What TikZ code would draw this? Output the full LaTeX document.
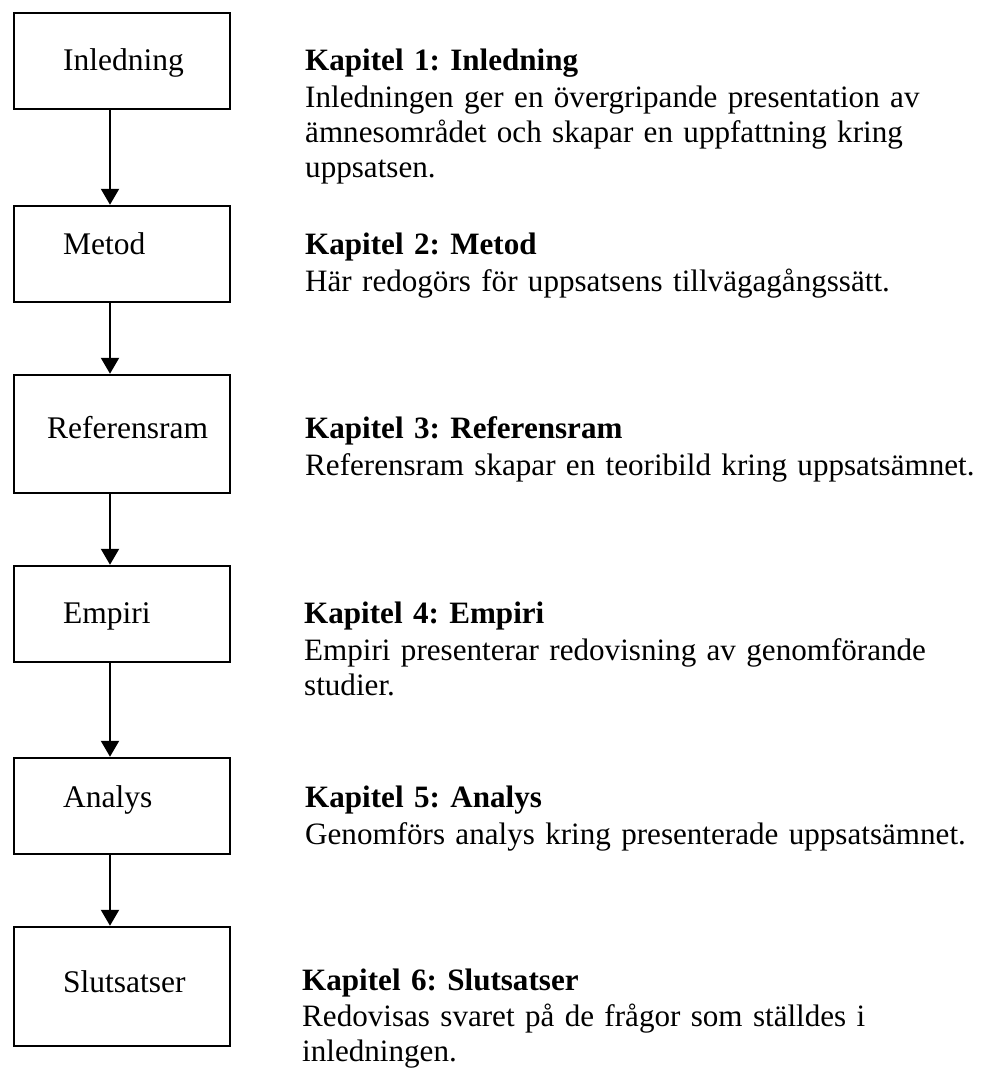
\documentclass[tikz,border=0pt]{standalone}
\usepackage{fontspec}
\setmainfont{Liberation Serif}
\frenchspacing
\usepackage{tikz}
\usetikzlibrary{arrows.meta}
\tikzset{
  chapbox/.style={
    draw=black, fill=white, line width=2.5pt,
    minimum width=216pt, minimum height=96pt, inner sep=0pt
  },
  chaplbl/.style={
    anchor=base west, inner sep=0pt,
    font=\fontsize{31.5}{35}\selectfont
  },
  chapdesc/.style={
    anchor=base west, inner sep=0pt, text width=700pt, align=left,
    font=\fontsize{31.1}{35}\selectfont
  },
  chaparr/.style={draw=black, line width=2.2pt,
    -{Triangle[length=16pt,width=18pt]}}
}

\begin{document}
\begin{tikzpicture}[x=1pt,y=-1pt]

  \useasboundingbox (0,0) rectangle (982,1068);

  %% ---- Inledning ----
  \node[chapbox] (in_b) at (122,61) {};
  \node[chaplbl] (in_l) at (63,70.7) {Inledning};
  \node[chapdesc] (in_d) at (305,70.7) {
    \textbf{Kapitel 1: Inledning}\\[2pt]
    Inledningen ger en övergripande presentation av\\
    ämnesområdet och skapar en uppfattning kring\\
    uppsatsen.
  };

  %% ---- Metod ----
  \node[chapbox] (me_b) at (122,254) {};
  \node[chaplbl] (me_l) at (63,254) {Metod};
  \node[chapdesc] (me_d) at (305,254) {
    \textbf{Kapitel 2: Metod}\\[2pt]
    Här redogörs för uppsatsens tillvägagångssätt.
  };

  %% ---- Referensram ----
  \node[chapbox, minimum height=118pt] (re_b) at (122,434) {};
  \node[chaplbl] (re_l) at (47,438) {Referensram};
  \node[chapdesc] (re_d) at (305,438) {
    \textbf{Kapitel 3: Referensram}\\[2pt]
    Referensram skapar en teoribild kring uppsatsämnet.
  };

  %% ---- Empiri ----
  \node[chapbox] (em_b) at (122,614) {};
  \node[chaplbl] (em_l) at (63,623) {Empiri};
  \node[chapdesc] (em_d) at (304,623) {
    \textbf{Kapitel 4: Empiri}\\[2pt]
    Empiri presenterar redovisning av genomförande\\
    studier.
  };

  %% ---- Analys ----
  \node[chapbox] (an_b) at (122,806) {};
  \node[chaplbl] (an_l) at (63,807) {Analys};
  \node[chapdesc] (an_d) at (305,807) {
    \textbf{Kapitel 5: Analys}\\[2pt]
    Genomförs analys kring presenterade uppsatsämnet.
  };

  %% ---- Slutsatser ----
  \node[chapbox, minimum height=119pt] (sl_b) at (122,986.5) {};
  \node[chaplbl] (sl_l) at (63,992) {Slutsatser};
  \node[chapdesc] (sl_d) at (302,990) {
    \textbf{Kapitel 6: Slutsatser}\\[1pt]
    Redovisas svaret på de frågor som ställdes i\\
    inledningen.
  };

  %% Flow
  \draw[chaparr] ([xshift=-12pt]in_b.south) -- ([xshift=-12pt]me_b.north);
  \draw[chaparr] ([xshift=-12pt]me_b.south) -- ([xshift=-12pt]re_b.north);
  \draw[chaparr] ([xshift=-12pt]re_b.south) -- ([xshift=-12pt]em_b.north);
  \draw[chaparr] ([xshift=-12pt]em_b.south) -- ([xshift=-12pt]an_b.north);
  \draw[chaparr] ([xshift=-12pt]an_b.south) -- ([xshift=-12pt]sl_b.north);

\end{tikzpicture}
\end{document}
